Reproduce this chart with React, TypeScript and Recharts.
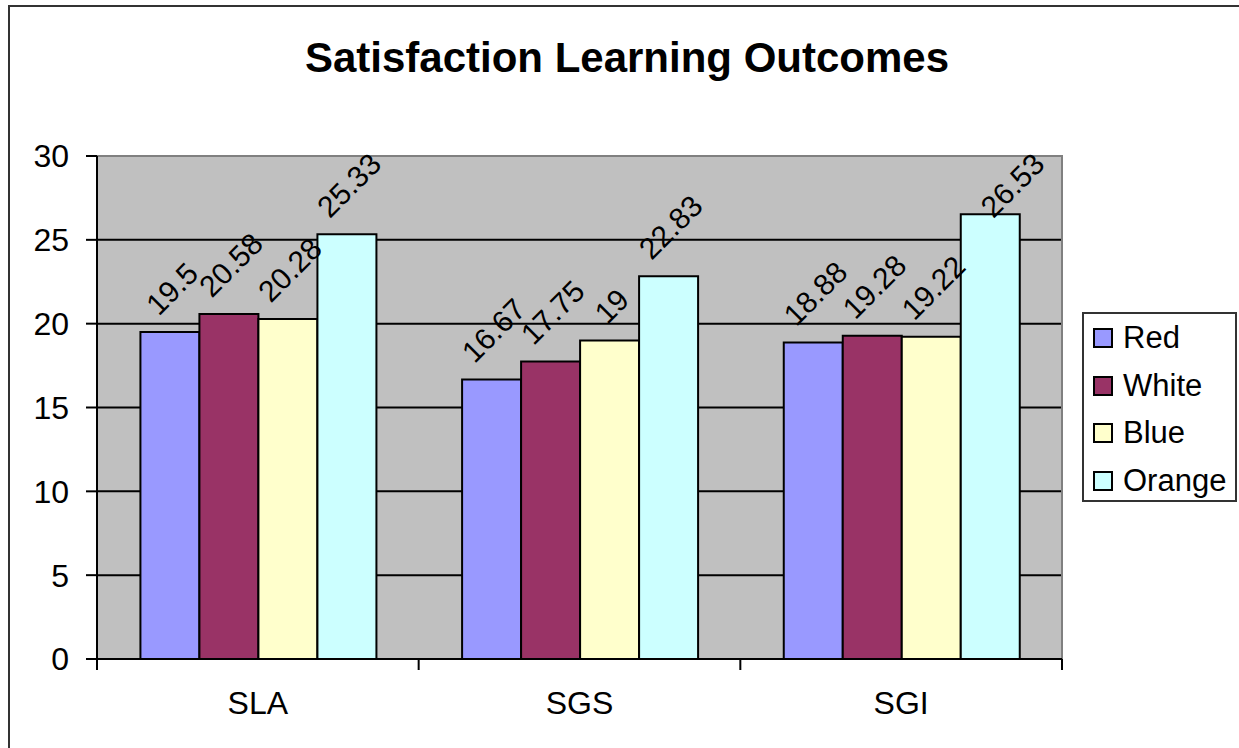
import React from 'react';
import { BarChart, Bar, XAxis, YAxis, CartesianGrid, LabelList, ReferenceArea } from 'recharts';

const categories = ['SLA', 'SGS', 'SGI'];
const seriesNames = ['Red', 'White', 'Blue', 'Orange'];
const redValues = [19.5, 16.67, 18.88];
const whiteValues = [20.58, 17.75, 19.28];
const blueValues = [20.28, 19, 19.22];
const orangeValues = [25.33, 22.83, 26.53];
const seriesColors = ['#9999FF', '#993366', '#FFFFCC', '#CCFFFF'];
const yTicks = [0, 5, 10, 15, 20, 25, 30];
const titleText = 'Satisfaction Learning Outcomes';

const seriesValues = [redValues, whiteValues, blueValues, orangeValues];
const data = categories.map((c, i) => {
  const row: any = { name: c };
  seriesNames.forEach((s, k) => { row[s] = seriesValues[k][i]; });
  return row;
});

const FONT = '"Liberation Sans", Arial, Helvetica, sans-serif';
const CHART_W = 1231;
const CHART_H = 743;
const MARGIN = { top: 151, right: 177, bottom: 29, left: 0 };
const Y_AXIS_W = 89;
const X_AXIS_H = 60;
const PLOT_W = CHART_W - MARGIN.left - MARGIN.right - Y_AXIS_W;
const BAND = PLOT_W / categories.length;
const LABEL_FS = 30;
const AXIS_FS = 32;
const LABEL_GAP = 15;
const LABEL_CLAMP_TOP = MARGIN.top - 5;

function textWidth(s: string, fs: number) {
  let w = 0;
  for (const ch of s) w += ch === '.' ? 0.278 : 0.556;
  return w * fs;
}

function DataLabel(props: any) {
  const { x, y, width, value } = props;
  if (value == null) return null;
  const s = String(value);
  let cx = Number(x) + Number(width) / 2 + 2;
  const w = textWidth(s, LABEL_FS);
  const h = 0.72 * LABEL_FS;
  const bound = (w + h) / Math.SQRT2;
  let cy = Number(y) - LABEL_GAP - bound / 2;
  const topEdge = cy - bound / 2;
  if (topEdge < LABEL_CLAMP_TOP) {
    const d = LABEL_CLAMP_TOP - topEdge;
    cy += d;
    cx += d;
  }
  return (
    <text
      x={cx}
      y={cy}
      textAnchor="middle"
      dominantBaseline="central"
      fontSize={LABEL_FS}
      fontFamily={FONT}
      fill="#000"
      transform={`rotate(-45 ${cx} ${cy})`}
    >
      {s}
    </text>
  );
}

function XTick(props: any) {
  const { x, y, payload, index, visibleTicksCount } = props;
  const left = x - BAND / 2;
  const right = x + BAND / 2;
  const last = index === (visibleTicksCount ?? categories.length) - 1;
  return (
    <g>
      <line x1={left} x2={left} y1={y} y2={y + 11} stroke="#000" strokeWidth={2} />
      {last && <line x1={right} x2={right} y1={y} y2={y + 11} stroke="#000" strokeWidth={2} />}
      <text x={x} y={y + 44} textAnchor="middle" dominantBaseline="central" fontSize={AXIS_FS} fontFamily={FONT} fill="#000">
        {payload.value}
      </text>
    </g>
  );
}

function LegendBox() {
  return (
    <div
      style={{
        position: 'absolute',
        left: 1074,
        top: 307,
        width: 155,
        height: 190,
        border: '2px solid #333',
        boxSizing: 'border-box',
        background: '#fff',
        fontFamily: FONT,
      }}
    >
      {seriesNames.map((s, i) => (
        <div
          key={s}
          style={{
            position: 'absolute',
            left: 9,
            top: 24 + i * 47.7 - 20,
            height: 40,
            display: 'flex',
            alignItems: 'center',
            whiteSpace: 'nowrap',
          }}
        >
          <span
            style={{
              display: 'inline-block',
              width: 16,
              height: 16,
              border: '2px solid #000',
              background: seriesColors[i],
              marginRight: 10,
            }}
          />
          <span style={{ fontSize: 31, lineHeight: '40px', color: '#000' }}>{s}</span>
        </div>
      ))}
    </div>
  );
}

export default function App() {
  return (
    <div style={{ position: 'absolute', left: 8, top: 5, width: CHART_W, height: CHART_H, overflow: 'hidden', background: '#fff' }}>
      <style>{'html,body{overflow:hidden}'}</style>
      <div
        style={{
          position: 'absolute',
          left: 0,
          top: 0,
          width: CHART_W + 40,
          height: CHART_H + 40,
          borderTop: '2px solid #333',
          borderLeft: '2px solid #333',
          boxSizing: 'border-box',
          pointerEvents: 'none',
          zIndex: 5,
        }}
      />
      <div
        style={{
          position: 'absolute',
          left: 619 - 450,
          width: 900,
          top: 32,
          textAlign: 'center',
          fontFamily: FONT,
          fontWeight: 'bold',
          fontSize: 42,
          lineHeight: '42px',
          color: '#000',
        }}
      >
        {titleText}
      </div>
      <BarChart
        width={CHART_W}
        height={CHART_H}
        data={data}
        margin={MARGIN}
        barCategoryGap="13.5%"
        barGap={0}
        style={{ position: 'absolute', left: 0, top: 0 }}
      >
        <CartesianGrid vertical={false} fill="#C0C0C0" fillOpacity={1} stroke="#000" strokeWidth={2} />
        <ReferenceArea y1={0} y2={30} fill="none" stroke="#808080" strokeWidth={2} ifOverflow="visible" />
        {seriesNames.map((s, i) => (
          <Bar key={s} dataKey={s} fill={seriesColors[i]} stroke="#000" strokeWidth={2} isAnimationActive={false}>
            <LabelList dataKey={s} content={DataLabel} />
          </Bar>
        ))}
        <XAxis
          dataKey="name"
          height={X_AXIS_H}
          tickLine={false}
          tickSize={0}
          tickMargin={0}
          axisLine={{ stroke: '#000', strokeWidth: 2 }}
          tick={XTick}
          interval={0}
        />
        <YAxis
          width={Y_AXIS_W}
          domain={[0, 30]}
          ticks={yTicks}
          interval={0}
          tickSize={11}
          tickMargin={17}
          tickLine={{ stroke: '#000', strokeWidth: 2 }}
          axisLine={{ stroke: '#000', strokeWidth: 2 }}
          tick={{ fontSize: AXIS_FS, fill: '#000', fontFamily: FONT }}
        />
      </BarChart>
      <LegendBox />
    </div>
  );
}
